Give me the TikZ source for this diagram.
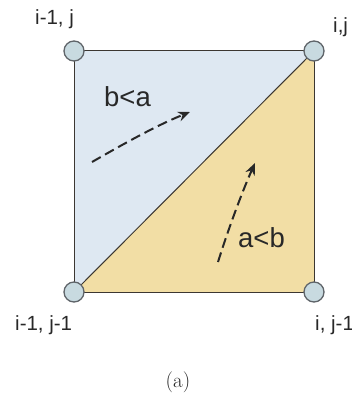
\documentclass[tikz,border=0pt]{standalone}
\usepackage{fontspec}
\newfontfamily\labfont{Liberation Sans}
\usetikzlibrary{arrows.meta}
\definecolor{bluefill}{RGB}{222,232,242}
\definecolor{orangefill}{RGB}{242,222,165}
\definecolor{dotfill}{RGB}{200,218,224}
\definecolor{dotline}{RGB}{95,100,105}
\definecolor{edge}{RGB}{60,55,50}
\definecolor{txt}{RGB}{40,40,40}
\begin{document}
\begin{tikzpicture}[x=1pt,y=-1pt,
  vert/.style={circle,draw=dotline,fill=dotfill,line width=1.3pt,minimum size=20pt,inner sep=0pt},
  lab/.style={font=\labfont\fontsize{20.5}{22}\selectfont,text=txt,inner sep=0pt,anchor=base west},
  region/.style={font=\labfont\fontsize{27.5}{30}\selectfont,text=txt,inner sep=0pt,anchor=base west},
  dir/.style={dash pattern=on 10pt off 5pt,line width=2pt,draw=txt,-{Stealth[length=12pt,width=10pt]}}]
\useasboundingbox (0,0) rectangle (351,398);
\coordinate (tl) at (74,51);
\coordinate (tr) at (314,51);
\coordinate (bl) at (74,292);
\coordinate (br) at (314,292);
\fill[bluefill] (tl) -- (tr) -- (bl) -- cycle;
\fill[orangefill] (tr) -- (br) -- (bl) -- cycle;
\draw[edge,line width=1pt] (tl) -- (tr) -- (br) -- (bl) -- cycle;
\draw[edge,line width=1pt] (bl) -- (tr);
\node[vert] (v1) at (tl) {};
\node[vert] (v2) at (tr) {};
\node[vert] (v3) at (bl) {};
\node[vert] (v4) at (br) {};
\node[lab] (l1) at (35,25) {i-1, j};
\node[lab] (l2) at (333,33) {i,j};
\node[lab] (l3) at (15,330) {i-1, j-1};
\node[lab] (l4) at (315,330) {i, j-1};
\node[region] (r1) at (104,107) {b<a};
\node[region] (r2) at (238,247) {a<b};
\coordinate (a1s) at (92,162);
\coordinate (a1e) at (190,112);
\coordinate (a2s) at (218,262);
\coordinate (a2e) at (255,163);
\draw[dir] (a1s) .. controls (120,146) and (155,126) .. (a1e);
\draw[dir] (a2s) .. controls (228,230) and (242,192) .. (a2e);
\node[font=\fontsize{21}{24}\selectfont,text=txt,inner sep=0pt,anchor=base] (cap) at (178,387) {(a)};
\end{tikzpicture}
\end{document}
